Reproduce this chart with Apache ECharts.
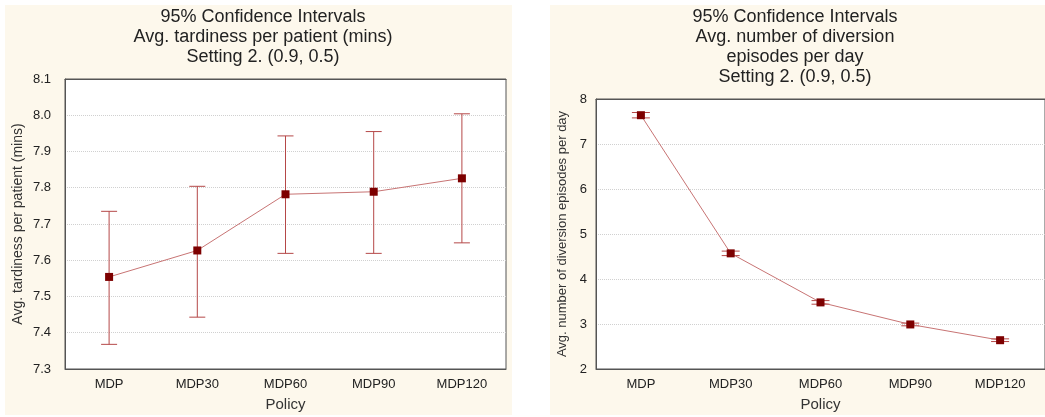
<!DOCTYPE html>
<html lang="en">
<head>
    <meta charset="UTF-8">
    <title>CI charts</title>
    <script src="https://cdn.jsdelivr.net/npm/echarts@6/dist/echarts.min.js"></script>
    <style>
        html, body { margin: 0; padding: 0; background: #fff; }
    </style>
</head>
<body>
<div id="main" style="width: 1045px; height: 417px;"></div>
<script>
    var policies = ['MDP', 'MDP30', 'MDP60', 'MDP90', 'MDP120'];

    // left: avg tardiness per patient (mins)
    var tardMean = [7.554, 7.627, 7.782, 7.789, 7.826];
    var tardLow  = [7.368, 7.443, 7.619, 7.619, 7.648];
    var tardHigh = [7.735, 7.804, 7.943, 7.955, 8.004];

    // right: avg number of diversion episodes per day
    var divMean = [7.64, 4.57, 3.48, 2.99, 2.64];
    var divLow  = [7.58, 4.52, 3.44, 2.96, 2.61];
    var divHigh = [7.70, 4.62, 3.52, 3.02, 2.67];

    var myChart = echarts.init(document.getElementById('main'));

    var font = 'Liberation Sans, Arial, sans-serif';
    var lineColor = '#c87474';
    var markColor = '#7d0000';
    var barColor = '#b54848';

    function errRows(lo, hi) {
        var rows = [];
        for (var i = 0; i < lo.length; i++) {
            rows.push([i, lo[i], hi[i]]);
        }
        return rows;
    }

    function errBars(capHalf) {
        return function (params, api) {
            var x = api.value(0);
            var a = api.coord([x, api.value(1)]);
            var b = api.coord([x, api.value(2)]);
            var st = { stroke: barColor, lineWidth: 1 };
            return {
                type: 'group',
                children: [
                    { type: 'line', shape: { x1: a[0], y1: a[1], x2: b[0], y2: b[1] }, style: st },
                    { type: 'line', shape: { x1: a[0] - capHalf, y1: a[1], x2: a[0] + capHalf, y2: a[1] }, style: st },
                    { type: 'line', shape: { x1: b[0] - capHalf, y1: b[1], x2: b[0] + capHalf, y2: b[1] }, style: st }
                ]
            };
        };
    }

    function xAxisPair(gi) {
        return [
            {
                type: 'category', gridIndex: gi, data: policies, position: 'bottom',
                name: 'Policy', nameLocation: 'middle', nameGap: 28,
                nameTextStyle: { fontFamily: font, fontSize: 15, color: '#333' },
                axisLine: { lineStyle: { color: '#555' } },
                axisTick: { alignWithLabel: true, length: 4, lineStyle: { color: '#555' } },
                axisLabel: { fontFamily: font, fontSize: 13, color: '#222', margin: 9 },
                splitLine: { show: false }
            },
            {
                type: 'category', gridIndex: gi, data: policies, position: 'top',
                axisLine: { lineStyle: { color: '#555' } },
                axisTick: { alignWithLabel: true, inside: true, length: 3, lineStyle: { color: '#555' } },
                axisLabel: { show: false },
                splitLine: { show: false }
            }
        ];
    }

    var titleStyle = { fontFamily: font, fontSize: 18, fontWeight: 'normal', color: '#222', lineHeight: 20 };

    option = {
        animation: false,
        backgroundColor: '#fff',
        graphic: [
            { type: 'rect', left: 5, top: 5, shape: { width: 507, height: 410 }, style: { fill: '#fdf8ec' }, z: -10 },
            { type: 'rect', left: 550, top: 5, shape: { width: 495, height: 410 }, style: { fill: '#fdf8ec' }, z: -10 }
        ],
        title: [
            {
                text: '95% Confidence Intervals\nAvg. tardiness per patient (mins)\nSetting 2. (0.9, 0.5)',
                left: 258, top: 2, textAlign: 'center', textStyle: titleStyle
            },
            {
                text: '95% Confidence Intervals\nAvg. number of diversion\nepisodes per day\nSetting 2. (0.9, 0.5)',
                left: 790, top: 2, textAlign: 'center', textStyle: titleStyle
            }
        ],
        grid: [
            { left: 65, right: 539, top: 79, bottom: 47, show: true, backgroundColor: '#fff', borderColor: '#555', borderWidth: 1 },
            { left: 596, right: -6, top: 99, bottom: 46, show: true, backgroundColor: '#fff', borderColor: '#555', borderWidth: 1 }
        ],
        xAxis: xAxisPair(0).concat(xAxisPair(1)),
        yAxis: [
            {
                type: 'value', gridIndex: 0, min: 7.3, max: 8.1, interval: 0.1,
                name: 'Avg. tardiness per patient (mins)', nameLocation: 'middle', nameGap: 40,
                nameTextStyle: { fontFamily: font, fontSize: 14, color: '#333' },
                axisLine: { show: true, lineStyle: { color: '#555' } },
                axisTick: { show: false },
                axisLabel: { fontFamily: font, fontSize: 13, color: '#222', margin: 14, formatter: function (v) { return v.toFixed(1); } },
                splitLine: { lineStyle: { color: '#d0d0d0', type: 'dotted' } }
            },
            {
                type: 'value', gridIndex: 1, min: 2, max: 8, interval: 1,
                name: 'Avg. number of diversion episodes per day', nameLocation: 'middle', nameGap: 27,
                nameTextStyle: { fontFamily: font, fontSize: 13, color: '#333' },
                axisLine: { show: true, lineStyle: { color: '#555' } },
                axisTick: { show: false },
                axisLabel: { fontFamily: font, fontSize: 13, color: '#222', margin: 9 },
                splitLine: { lineStyle: { color: '#d0d0d0', type: 'dotted' } }
            }
        ],
        series: [
            {
                type: 'custom', xAxisIndex: 0, yAxisIndex: 0,
                renderItem: errBars(8), data: errRows(tardLow, tardHigh), z: 2
            },
            {
                type: 'line', xAxisIndex: 0, yAxisIndex: 0, data: tardMean,
                symbol: 'rect', symbolSize: 8,
                lineStyle: { color: lineColor, width: 1 },
                itemStyle: { color: markColor }, z: 3
            },
            {
                type: 'custom', xAxisIndex: 2, yAxisIndex: 1,
                renderItem: errBars(9), data: errRows(divLow, divHigh), z: 2
            },
            {
                type: 'line', xAxisIndex: 2, yAxisIndex: 1, data: divMean,
                symbol: 'rect', symbolSize: 8,
                lineStyle: { color: lineColor, width: 1 },
                itemStyle: { color: markColor }, z: 3
            }
        ]
    };
    myChart.setOption(option);
</script>
</body>
</html>
